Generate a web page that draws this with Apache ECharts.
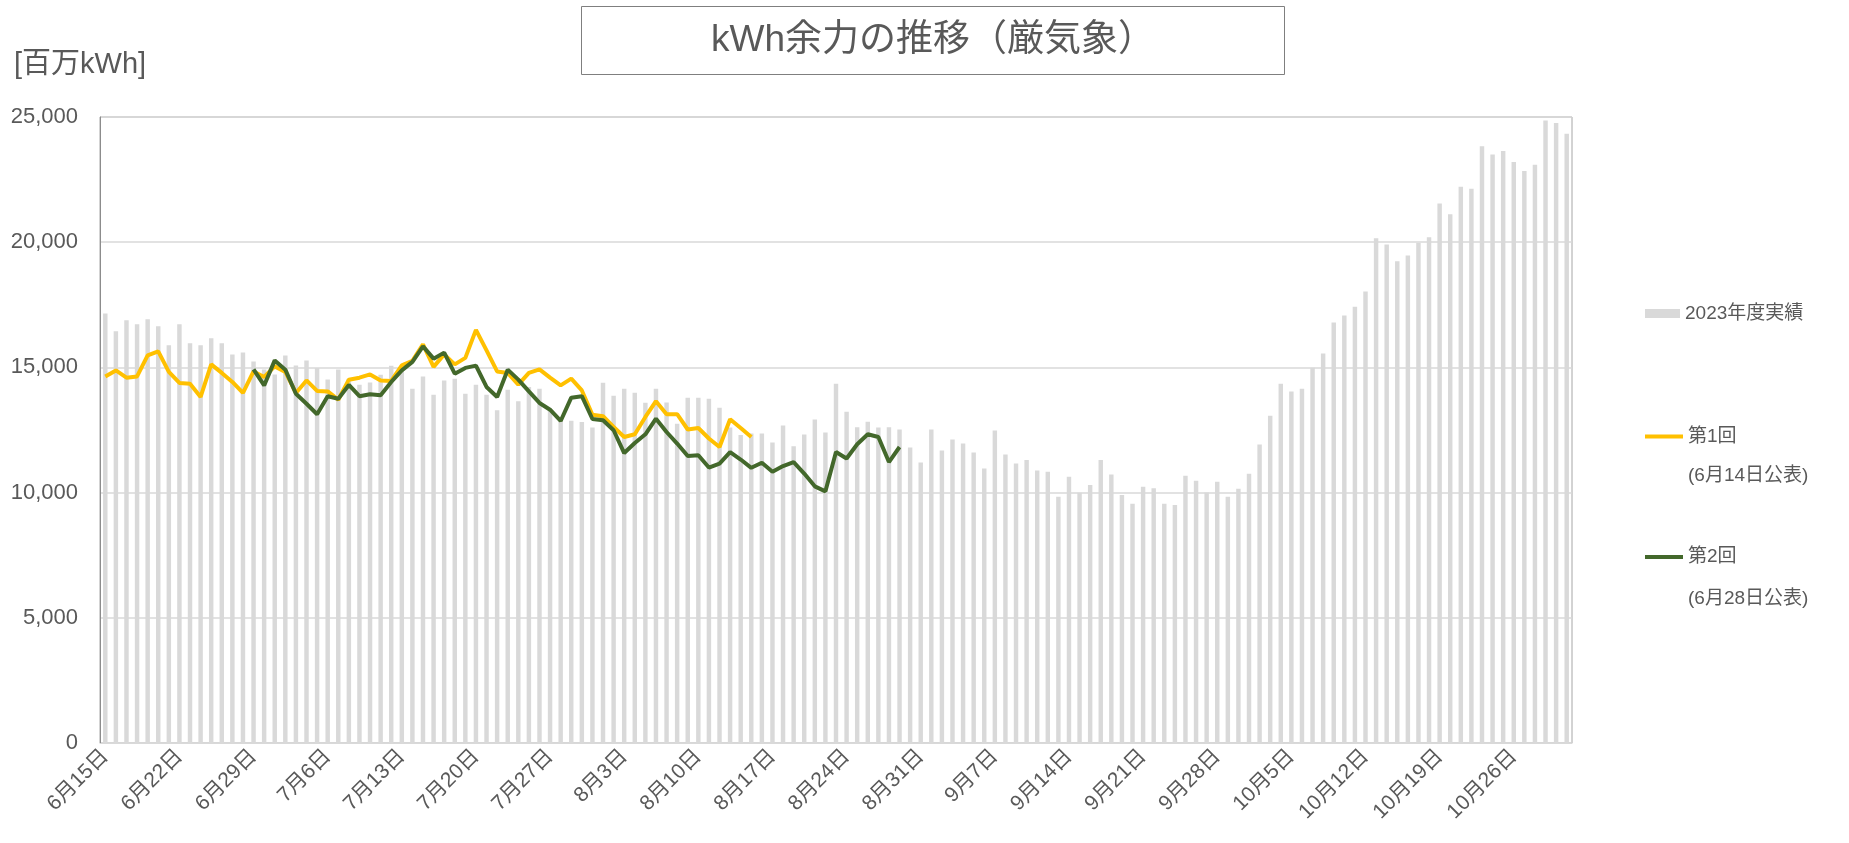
<!DOCTYPE html>
<html>
    <head>
        <meta charset="utf-8">
        <title>kWh余力の推移（厳気象）</title>
        <script src="https://cdn.jsdelivr.net/npm/echarts@6/dist/echarts.min.js"></script>
        <style>
            html, body { margin: 0; padding: 0; background: #fff; }
            #chart1 { width: 1849px; height: 843px; }
        </style>
    </head>
    <body>
        <div id="chart1"></div>
    <script type="text/javascript">
        // 日付ラベル 6月15日 ～ 10月31日
        var startMonth = 6, startDay = 15, dayCount = 139;
        var monthDays = {6: 30, 7: 31, 8: 31, 9: 30, 10: 31};
        var dates = [];
        var m = startMonth, d = startDay;
        for (var k = 0; k < dayCount; k++) {
            dates.push(m + '月' + d + '日');
            d++;
            if (d > monthDays[m]) { d = 1; m++; }
        }

        // 2023年度実績 [百万kWh]
        var actual2023 = [
            17150, 16440, 16880, 16720, 16920, 16640, 15880, 16720, 15960, 15880,
            16160, 15960, 15520, 15600, 15240, 14920, 14720, 15480, 15080, 15280,
            14980, 14520, 14920, 14550, 14310, 14400, 14710, 15070, 15000, 14150,
            14640, 13910, 14480, 14550, 13950, 14310, 13910, 13290, 14110, 13650,
            14220, 14150, 13290, 12950, 12870, 12820, 12600, 14390, 13870, 14150,
            13990, 13590, 14150, 13600, 12750, 13790, 13790, 13750, 13390, 12600,
            12300, 12360, 12360, 12000, 12680, 11850, 12320, 12920, 12400, 14350,
            13230, 12610, 12830, 12600, 12610, 12520, 11800, 11200, 12520, 11680,
            12120, 11960, 11600, 10960, 12480, 11520, 11160, 11300, 10880, 10830,
            9830, 10630, 9990, 10300, 11300, 10720, 9900, 9550, 10230, 10170,
            9550, 9500, 10670, 10470, 10000, 10430, 9830, 10150, 10750, 11920,
            13070, 14350, 14040, 14150, 14990, 15560, 16790, 17070, 17420, 18030,
            20160, 19910, 19240, 19470, 19980, 20200, 21550, 21120, 22210, 22130,
            23830, 23500, 23640, 23200, 22840, 23090, 24860, 24760, 24330
        ];

        // 第1回 (6月14日公表) 6月15日から
        var round1Start = 0;
        var round1 = [
            14640, 14880, 14590, 14640, 15480, 15640, 14820, 14380, 14350, 13820,
            15120, 14780, 14420, 13980, 14840, 14620, 15040, 14820, 13980, 14480,
            14060, 14040, 13710, 14510, 14590, 14720, 14480, 14460, 15080, 15260,
            15920, 15020, 15520, 15120, 15380, 16500, 15680, 14840, 14780, 14310,
            14780, 14920, 14590, 14280, 14550, 14080, 13110, 13050, 12620, 12220,
            12330, 13020, 13650, 13130, 13130, 12520, 12580, 12160, 11820, 12930,
            12580, 12220
        ];

        // 第2回 (6月28日公表) 6月29日から
        var round2Start = 14;
        var round2 = [
            14920, 14280, 15280, 14910, 13950, 13550, 13130, 13850, 13750, 14300,
            13850, 13930, 13890, 14420, 14880, 15220, 15840, 15350, 15590, 14750,
            14980, 15070, 14220, 13820, 14910, 14510, 14040, 13580, 13310, 12860,
            13790, 13850, 12940, 12890, 12490, 11580, 11980, 12330, 12950, 12420,
            11960, 11460, 11490, 11000, 11160, 11620, 11320, 10990, 11190, 10830,
            11060, 11220, 10760, 10250, 10050, 11620, 11360, 11930, 12330, 12220,
            11220, 11820
        ];

        var yTicks = [0, 5000, 10000, 15000, 20000, 25000];

        function padSeries(start, values) {
            var out = [];
            for (var i = 0; i < dates.length; i++) {
                var v = values[i - start];
                out.push(v === undefined ? null : v);
            }
            return out;
        }

        var fontFam = "'Liberation Sans', 'Noto Sans CJK JP', sans-serif";
        var textColor = '#595959';

        // 凡例: 1行目をアイコンの高さに揃えるため先頭に空行を入れる
        function legendText(name) {
            return name.indexOf('\n') >= 0 ? '\n' + name : name;
        }

        var myChart1 = echarts.init(document.getElementById('chart1'));
        myChart1.setOption({
            animation: false,
            backgroundColor: '#fff',
            textStyle: { fontFamily: fontFam },
            title: [
                {
                    text: 'kWh余力の推移（厳気象）',
                    left: 581,
                    top: 6,
                    padding: [12, 130],
                    borderColor: '#7F7F7F',
                    borderWidth: 1,
                    textStyle: { fontSize: 37, lineHeight: 45, fontWeight: 'normal', color: textColor, fontFamily: fontFam }
                },
                {
                    text: '[百万kWh]',
                    left: 14,
                    top: 50,
                    padding: 0,
                    textStyle: { fontSize: 29, fontWeight: 'normal', color: textColor, fontFamily: fontFam }
                }
            ],
            legend: [
                {
                    data: ['2023年度実績'],
                    left: 1645, top: 304,
                    padding: 0,
                    icon: 'rect',
                    itemWidth: 35, itemHeight: 9,
                    textStyle: { fontSize: 19, color: textColor, fontFamily: fontFam }
                },
                {
                    data: ['第1回\n(6月14日公表)'],
                    left: 1645, top: 378,
                    padding: 0,
                    icon: 'rect',
                    itemWidth: 38, itemHeight: 4,
                    formatter: legendText,
                    textStyle: { fontSize: 19, lineHeight: 39, color: textColor, fontFamily: fontFam }
                },
                {
                    data: ['第2回\n(6月28日公表)'],
                    left: 1645, top: 494,
                    padding: 0,
                    icon: 'rect',
                    itemWidth: 38, itemHeight: 4,
                    formatter: legendText,
                    textStyle: { fontSize: 19, lineHeight: 42, color: textColor, fontFamily: fontFam }
                }
            ],
            grid: {
                left: 100, right: 277, top: 117, bottom: 100,
                show: true,
                borderColor: '#A6A6A6',
                borderWidth: 1
            },
            xAxis: {
                type: 'category',
                data: dates,
                boundaryGap: true,
                axisLine: { lineStyle: { color: '#D9D9D9' } },
                axisTick: { interval: 6, length: 7, lineStyle: { color: '#D9D9D9' } },
                axisLabel: { interval: 6, rotate: 45, fontSize: 21, color: textColor, margin: 10 }
            },
            yAxis: {
                type: 'value',
                min: yTicks[0],
                max: yTicks[yTicks.length - 1],
                interval: yTicks[1] - yTicks[0],
                axisLine: { show: true, lineStyle: { color: '#8C8C8C' } },
                axisTick: { show: false },
                splitLine: { lineStyle: { color: '#D9D9D9', width: 1.5 } },
                axisLabel: {
                    fontSize: 22, color: textColor, margin: 22,
                    formatter: function (v) { return v.toLocaleString('en-US'); }
                }
            },
            series: [
                {
                    name: '2023年度実績',
                    type: 'bar',
                    data: actual2023,
                    barWidth: '42%',
                    itemStyle: { color: '#D9D9D9' }
                },
                {
                    name: '第1回\n(6月14日公表)',
                    type: 'line',
                    data: padSeries(round1Start, round1),
                    symbol: 'none',
                    itemStyle: { color: '#FFC000' },
                    lineStyle: { color: '#FFC000', width: 4 },
                    z: 3
                },
                {
                    name: '第2回\n(6月28日公表)',
                    type: 'line',
                    data: padSeries(round2Start, round2),
                    symbol: 'none',
                    itemStyle: { color: '#43682B' },
                    lineStyle: { color: '#43682B', width: 4 },
                    z: 4
                }
            ]
        });
    </script>
    </body>
</html>
